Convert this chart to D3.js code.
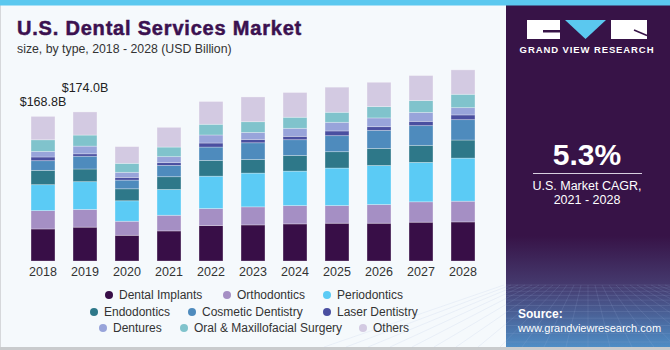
<!DOCTYPE html>
<html>
<head>
	<meta charset="UTF-8" />
	<title>U.S. Dental Services Market</title>
	<script src="https://d3js.org/d3.v7.min.js"></script>
	<style>
		body { margin: 0; background: #fff; }
		text { font-family: "Liberation Sans", Arial, sans-serif; }
	</style>
</head>
<body>
	<svg id="chart" width="670" height="350"></svg>

	<script type="text/javascript">
	// years + one array per segment (USD billion)
	var years = ["2018","2019","2020","2021","2022","2023","2024","2025","2026","2027","2028"]
	var dentalImplants = [37.4, 39.5, 30.0, 35.1, 41.3, 42.1, 43.3, 44.1, 44.1, 45.3, 45.6]
	var orthodontics   = [21.4, 20.7, 16.4, 18.3, 19.9, 21.1, 21.4, 20.6, 21.8, 23.8, 24.2]
	var periodontics   = [30.3, 32.4, 23.9, 30.1, 37.8, 39.4, 40.2, 43.8, 45.6, 46.0, 50.3]
	var endodontics    = [16.7, 14.8, 14.0, 14.9, 18.4, 15.9, 18.3, 19.1, 19.9, 19.9, 21.1]
	var cosmetic       = [11.3, 14.9, 10.1, 13.2, 15.6, 19.5, 18.4, 18.7, 21.1, 23.0, 23.8]
	var laser          = [4.3, 2.8, 3.2, 3.2, 4.7, 3.9, 3.9, 5.5, 4.3, 5.0, 5.5]
	var dentures       = [6.5, 9.0, 5.9, 7.0, 9.4, 8.2, 9.4, 10.1, 10.2, 10.5, 8.5]
	var oralSurgery    = [13.6, 12.9, 10.5, 11.2, 12.5, 12.5, 12.9, 11.7, 13.2, 13.7, 15.6]
	var others         = [27.3, 27.0, 19.5, 23.0, 26.6, 28.9, 28.9, 29.3, 28.4, 29.3, 28.5]
	var seriesNames = ["Dental Implants","Orthodontics","Periodontics","Endodontics","Cosmetic Dentistry",
		"Laser Dentistry","Dentures","Oral & Maxillofacial Surgery","Others"]
	var seriesValues = [dentalImplants, orthodontics, periodontics, endodontics, cosmetic,
		laser, dentures, oralSurgery, others]
	var valueLabels = ["$168.8B", "$174.0B"]

	// colours, bottom segment to top
	var colors = ["#380e47","#a58fc4","#5bcbf5","#2e7889","#4e8bbd","#4a4fa0","#98a4da","#80c3cc","#d3cae2"]
	purple = "#371347"
	ink = "#333333"

	var svg = d3.select("#chart")

	// background + frame
	svg.append("rect").attr("width",670).attr("height",350).attr("fill","#f5f9fc")
	svg.append("rect").attr("x",0).attr("y",0).attr("width",1).attr("height",350).attr("fill","#d6d8db")
	svg.append("rect").attr("x",0).attr("y",347).attr("width",670).attr("height",3).attr("fill","#c9cbcd")

	// table for the stack
	var table = years.map((y,i)=>{
		var row = {year:y}
		seriesNames.forEach((s,j)=>row[s]=seriesValues[j][i])
		return row
	})
	var stacked = d3.stack().keys(seriesNames)(table)

	var x = d3.scaleBand().domain(years).range([22,484]).paddingInner(0.43).paddingOuter(0.215)
	var y = d3.scaleLinear().domain([0,200]).range([261,89.66])
	var color = d3.scaleOrdinal().domain(seriesNames).range(colors)

	svg.append("g")
		.selectAll("g.layer")
		.data(stacked)
		.enter()
		.append("g")
		.attr("class","layer")
		.attr("fill",d=>color(d.key))
		.selectAll("rect")
		.data(d=>d)
		.enter()
		.append("rect")
		.attr("x",d=>x(d.data.year))
		.attr("width",x.bandwidth())
		.attr("y",d=>y(d[1]))
		.attr("height",d=>y(d[0])-y(d[1]))
		.attr("stroke","#ffffff")
		.attr("stroke-opacity",0.35)
		.attr("stroke-width",0.8)

	// value labels on first two bars (staggered like the original)
	var labelOffsets = [10, 20]
	svg.selectAll("text.total")
		.data(valueLabels)
		.enter()
		.append("text")
		.attr("class","total")
		.attr("x",(d,i)=>x(years[i])+x.bandwidth()/2)
		.attr("y",(d,i)=>y(d3.sum(seriesValues,s=>s[i]))-labelOffsets[i])
		.attr("text-anchor","middle")
		.attr("font-size","12.5px")
		.attr("fill","#222")
		.text(d=>d)

	// x axis
	var xAxis = d3.axisBottom(x).tickSize(0).tickPadding(6)
	var gx = svg.append("g").attr("transform","translate(0,261)").call(xAxis)
	gx.select(".domain").remove()
	gx.selectAll("text").attr("font-size","12.5px").attr("fill",ink)
		.style("font-family","'Liberation Sans', Arial, sans-serif")

	// title
	svg.append("text").attr("x",17).attr("y",35)
		.attr("font-size","20px").attr("font-weight","bold").attr("fill","#3b1150")
		.attr("letter-spacing","0.8px")
		.attr("stroke","#3b1150").attr("stroke-width",0.5)
		.text("U.S. Dental Services Market")
	svg.append("text").attr("x",17).attr("y",53)
		.attr("font-size","12.3px").attr("fill",ink)
		.text("size, by type, 2018 - 2028 (USD Billion)")

	// legend
	var legendPos = [
		[109,299],[227,299],[327,299],
		[94,316],[192,316],[327,316],
		[103,332],[184,332],[363,332]
	]
	var leg = svg.selectAll("g.leg")
		.data(seriesNames)
		.enter()
		.append("g")
		.attr("class","leg")
		.attr("transform",(d,i)=>`translate(${legendPos[i][0]},${legendPos[i][1]})`)
	leg.append("circle").attr("cx",0).attr("cy",-4).attr("r",4).attr("fill",d=>color(d))
	leg.append("text").attr("x",10).attr("y",0).attr("font-size","12px").attr("fill",ink).text(d=>d)

	// right panel
	var defs = svg.append("defs")
	var grad = defs.append("linearGradient").attr("id","panelGrad").attr("x1",0).attr("y1",0).attr("x2",0).attr("y2",1)
	grad.append("stop").attr("offset","0").attr("stop-color",purple)
	grad.append("stop").attr("offset","0.68").attr("stop-color",purple)
	grad.append("stop").attr("offset","0.82").attr("stop-color","#453a6e")
	grad.append("stop").attr("offset","1").attr("stop-color","#4f8dc5")

	var panel = svg.append("g")
	panel.append("rect").attr("x",506).attr("y",0).attr("width",164).attr("height",347).attr("fill","url(#panelGrad)")

	// faint grid in the bottom of the panel
	var grid = panel.append("g").attr("stroke","#9fb6e0").attr("stroke-opacity",0.25).attr("stroke-width",0.6)
	d3.range(0,14).forEach(i=>{
		var yy = 285 + i*i*0.32 + i*2.5
		grid.append("line").attr("x1",506).attr("x2",670).attr("y1",yy).attr("y2",yy)
	})
	d3.range(-12,13).forEach(i=>{
		grid.append("line").attr("x1",588+i*7).attr("y1",285).attr("x2",588+i*22).attr("y2",347)
	})

	// blue bar on top
	svg.append("rect").attr("x",0).attr("y",0).attr("width",670).attr("height",5.5).attr("fill","#5bc8ef")

	// logo
	panel.append("rect").attr("x",527).attr("y",20).attr("width",33).attr("height",19).attr("fill","#fff")
	panel.append("rect").attr("x",543).attr("y",30).attr("width",17).attr("height",2.5).attr("fill",purple)
	panel.append("path").attr("d","M565,20 L606,20 L585.5,39 Z").attr("fill","#5bc8ef")
	panel.append("rect").attr("x",611).attr("y",20).attr("width",36).attr("height",19).attr("fill","#fff")
	panel.append("path").attr("d","M634,30 L647,35.5").attr("stroke",purple).attr("stroke-width",1.5)
	panel.append("text").attr("x",587).attr("y",53).attr("text-anchor","middle")
		.attr("font-size","9.5px").attr("font-weight","bold").attr("letter-spacing","0.9px")
		.attr("fill","#fff").text("GRAND VIEW RESEARCH")

	// CAGR
	panel.append("text").attr("x",587).attr("y",165).attr("text-anchor","middle")
		.attr("font-size","30px").attr("font-weight","bold").attr("fill","#fff").text("5.3%")
	panel.append("line").attr("x1",533).attr("x2",642).attr("y1",173.5).attr("y2",173.5)
		.attr("stroke","#d8d0e0").attr("stroke-width",1)
	panel.append("text").attr("x",587).attr("y",190).attr("text-anchor","middle")
		.attr("font-size","12.5px").attr("fill","#fff").text("U.S. Market CAGR,")
	panel.append("text").attr("x",587).attr("y",204).attr("text-anchor","middle")
		.attr("font-size","12.5px").attr("fill","#fff").text("2021 - 2028")

	// source
	panel.append("text").attr("x",518).attr("y",318).attr("font-size","12px").attr("font-weight","bold")
		.attr("fill","#fff").text("Source:")
	panel.append("text").attr("x",518).attr("y",332).attr("font-size","11px")
		.attr("fill","#fff").text("www.grandviewresearch.com")
	</script>
</body>
</html>
